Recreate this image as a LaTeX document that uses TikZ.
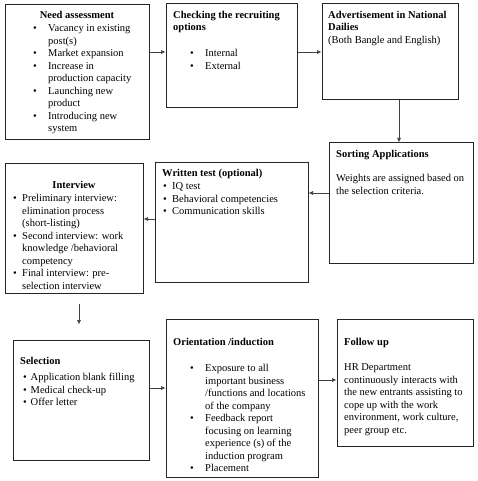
\documentclass[tikz,border=0pt]{standalone}
\usepackage{fontspec}
\setmainfont{Liberation Serif}
\usetikzlibrary{arrows.meta}
\newcommand{\bul}{\makebox[15pt][l]{\textbullet}}
\newcommand{\ind}{\makebox[15pt]{}}
\newcommand{\bus}{\makebox[9pt][l]{\textbullet}}
\newcommand{\ins}{\makebox[9pt]{}}
\newcommand{\bux}{\makebox[7.5pt][l]{\textbullet}}
\begin{document}
\begin{tikzpicture}[x=1pt,y=-1pt,
  box/.style={draw=black!85,line width=1pt,inner sep=0pt},
  txt/.style={anchor=north west,inner sep=0pt,align=left,font=\fontsize{10.5}{12.5}\selectfont},
  ttl/.style={txt,font=\fontsize{10.5}{12.8}\selectfont\bfseries},
  arr/.style={draw=black!75,line width=0.7pt,-{Latex[length=4.5pt,width=4pt]}}]
\useasboundingbox (0,0) rectangle (478,481);
% boxes
\node[box,minimum width=144pt,minimum height=135pt] (b1) at (77,72) {};
\node[box,minimum width=131pt,minimum height=104pt] (b2) at (231.5,56) {};
\node[box,minimum width=136pt,minimum height=96pt] (b3) at (390,52) {};
\node[box,minimum width=144pt,minimum height=120pt] (b4) at (401,203) {};
\node[box,minimum width=153pt,minimum height=120pt] (b5) at (231.5,222) {};
\node[box,minimum width=138pt,minimum height=130pt] (b6) at (74,228) {};
\node[box,minimum width=136pt,minimum height=120pt] (b7) at (81,400) {};
\node[box,minimum width=152pt,minimum height=158pt] (b8) at (242,398) {};
\node[box,minimum width=136pt,minimum height=127pt] (b9) at (405,382.5) {};
% texts
\node[ttl,anchor=north] (t1) at (77,9) {\strut Need assessment};
\node[txt] (c1) at (33,23) {\strut\bul Vacancy in existing\\\ind post(s)\\\bul Market expansion\\\bul Increase in\\\ind production capacity\\\bul Launching new\\\ind product\\\bul Introducing new\\\ind system};
\node[ttl] (t2) at (173,9) {\strut Checking the recruiting\\options};
\node[txt] (c2) at (190,48) {\strut\bul Internal\\\bul External};
\node[ttl] (t3) at (328,9) {\strut Advertisement in National\\Dailies\\\normalfont (Both Bangle and English)};
\node[ttl] (t4) at (336,148) {\strut Sorting Applications};
\node[txt] (c4) at (336,173) {\strut Weights are assigned based on\\the selection criteria.};
\node[ttl] (t5) at (162,167) {\strut Written test (optional)};
\node[txt] (c5) at (163,181) {\strut\bus IQ test\\\bus Behavioral competencies\\\bus Communication skills};
\node[ttl,anchor=north] (t6) at (74,179) {\strut Interview};
\node[txt] (c6) at (13,193) {\strut\bus Preliminary interview:\\\ins elimination process\\\ins (short-listing)\\\bus Second interview: work\\\ins knowledge /behavioral\\\ins competency\\\bus Final interview: pre-\\\ins selection interview};
\node[ttl] (t7) at (20,355) {\strut Selection};
\node[txt] (c7) at (23,372) {\strut\bux Application blank filling\\\bux Medical check-up\\\bux Offer letter};
\node[ttl] (t8) at (173,336) {\strut Orientation /induction};
\node[txt] (c8) at (190,363) {\strut\bul Exposure to all\\\ind important business\\\ind /functions and locations\\\ind of the company\\\bul Feedback report\\\ind focusing on learning\\\ind experience (s) of the\\\ind induction program\\\bul Placement};
\node[ttl] (t9) at (344,336) {\strut Follow up};
\node[txt] (c9) at (344,362) {\strut HR Department\\continuously interacts with\\the new entrants assisting to\\cope up with the work\\environment, work culture,\\peer group etc.};
% connectors
\draw[arr] (b1.east |- 0,52) -- (b2.west |- 0,52);
\draw[arr] (b2.east |- 0,52) -- (b3.west |- 0,52);
\draw[arr] (b3.south -| 399,0) -- (b4.north -| 399,0);
\draw[arr] (b4.west |- 0,193) -- (b5.east |- 0,193);
\draw[arr] (b5.west |- 0,219) -- (b6.east |- 0,219);
\draw[arr,shorten <=10pt,shorten >=15pt] (b6.south -| 79,0) -- (b7.north -| 79,0);
\draw[arr] (b7.east |- 0,388) -- (b8.west |- 0,388);
\draw[arr] (b8.east |- 0,380) -- (b9.west |- 0,380);
\end{tikzpicture}
\end{document}
